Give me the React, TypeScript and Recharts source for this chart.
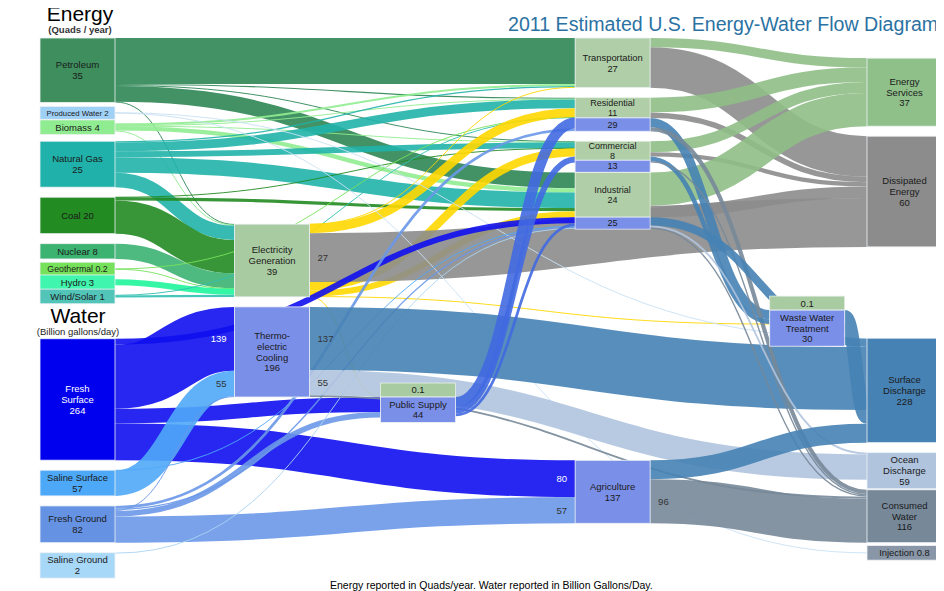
import React from 'react';
import { Sankey } from 'recharts';

// energy in quads / year, water in billion gallons / day
const energySources = ['Petroleum', 'Biomass', 'Natural Gas', 'Coal', 'Nuclear', 'Geothermal', 'Hydro', 'Wind/Solar'];
const energySourceTotals = [35, 4, 25, 20, 8, 0.2, 3, 1];

const waterSources = ['Fresh Surface', 'Saline Surface', 'Fresh Ground', 'Saline Ground'];
const waterSourceTotals = [264, 57, 82, 2];
const producedWater = 2;

const conversions = ['Electricity Generation', 'Thermoelectric Cooling', 'Public Supply', 'Waste Water Treatment'];
const conversionEnergy = [39, 0, 0.1, 0.1];
const conversionWater = [0, 196, 44, 30];

const endUses = ['Transportation', 'Residential', 'Commercial', 'Industrial', 'Agriculture'];
const endUseEnergy = [27, 11, 8, 24, 0];
const endUseWater = [0, 29, 13, 25, 137];

const sinks = ['Energy Services', 'Dissipated Energy', 'Surface Discharge', 'Ocean Discharge', 'Consumed Water', 'Injection'];
const sinkTotals = [37, 60, 228, 59, 116, 0.8];

// [from, to, quads]
const energyFlows: [string, string, number][] = [
  ['Petroleum', 'Transportation', 25],
  ['Petroleum', 'Industrial', 8.5],
  ['Petroleum', 'Residential', 0.6],
  ['Petroleum', 'Commercial', 0.5],
  ['Petroleum', 'Electricity Generation', 0.4],
  ['Biomass', 'Transportation', 1.1],
  ['Biomass', 'Residential', 0.4],
  ['Biomass', 'Commercial', 0.1],
  ['Biomass', 'Industrial', 2.3],
  ['Biomass', 'Electricity Generation', 0.4],
  ['Natural Gas', 'Transportation', 0.7],
  ['Natural Gas', 'Residential', 4.8],
  ['Natural Gas', 'Commercial', 3.2],
  ['Natural Gas', 'Industrial', 8.5],
  ['Natural Gas', 'Electricity Generation', 7.8],
  ['Coal', 'Commercial', 0.05],
  ['Coal', 'Industrial', 1.7],
  ['Coal', 'Electricity Generation', 18.1],
  ['Nuclear', 'Electricity Generation', 8.3],
  ['Geothermal', 'Residential', 0.04],
  ['Geothermal', 'Electricity Generation', 0.16],
  ['Hydro', 'Electricity Generation', 3.2],
  ['Wind/Solar', 'Residential', 0.1],
  ['Wind/Solar', 'Electricity Generation', 1.2],
  ['Electricity Generation', 'Transportation', 0.03],
  ['Electricity Generation', 'Residential', 4.9],
  ['Electricity Generation', 'Commercial', 4.5],
  ['Electricity Generation', 'Industrial', 3.3],
  ['Electricity Generation', 'Public Supply', 0.1],
  ['Electricity Generation', 'Waste Water Treatment', 0.1],
  ['Electricity Generation', 'Dissipated Energy', 26.6],
  ['Transportation', 'Energy Services', 5],
  ['Transportation', 'Dissipated Energy', 22],
  ['Residential', 'Energy Services', 8],
  ['Residential', 'Dissipated Energy', 3],
  ['Commercial', 'Energy Services', 6],
  ['Commercial', 'Dissipated Energy', 2.3],
  ['Industrial', 'Energy Services', 18],
  ['Industrial', 'Dissipated Energy', 6.3],
];

// [from, to, billion gallons / day]
const waterFlows: [string, string, number][] = [
  ['Produced Water', 'Surface Discharge', 1.2],
  ['Produced Water', 'Injection', 0.8],
  ['Fresh Surface', 'Thermoelectric Cooling', 139],
  ['Fresh Surface', 'Public Supply', 32],
  ['Fresh Surface', 'Industrial', 13],
  ['Fresh Surface', 'Agriculture', 80],
  ['Saline Surface', 'Thermoelectric Cooling', 55],
  ['Saline Surface', 'Industrial', 1],
  ['Fresh Ground', 'Thermoelectric Cooling', 2],
  ['Fresh Ground', 'Public Supply', 12],
  ['Fresh Ground', 'Residential', 6],
  ['Fresh Ground', 'Industrial', 3],
  ['Fresh Ground', 'Agriculture', 57],
  ['Saline Ground', 'Industrial', 2],
  ['Thermoelectric Cooling', 'Surface Discharge', 137],
  ['Thermoelectric Cooling', 'Ocean Discharge', 55],
  ['Thermoelectric Cooling', 'Consumed Water', 4],
  ['Public Supply', 'Residential', 23],
  ['Public Supply', 'Commercial', 13],
  ['Public Supply', 'Industrial', 6],
  ['Residential', 'Waste Water Treatment', 20],
  ['Residential', 'Consumed Water', 9],
  ['Commercial', 'Waste Water Treatment', 10],
  ['Commercial', 'Consumed Water', 3],
  ['Industrial', 'Surface Discharge', 18],
  ['Industrial', 'Ocean Discharge', 4],
  ['Industrial', 'Consumed Water', 3],
  ['Agriculture', 'Surface Discharge', 41],
  ['Agriculture', 'Consumed Water', 96],
  ['Waste Water Treatment', 'Surface Discharge', 30],
];

// ribbons whose value is printed, at their start or end
const flowLabels: [string, string, 'start' | 'end'][] = [
  ['Fresh Surface', 'Thermoelectric Cooling', 'end'],
  ['Saline Surface', 'Thermoelectric Cooling', 'end'],
  ['Thermoelectric Cooling', 'Surface Discharge', 'start'],
  ['Thermoelectric Cooling', 'Ocean Discharge', 'start'],
  ['Electricity Generation', 'Dissipated Energy', 'start'],
  ['Fresh Surface', 'Agriculture', 'end'],
  ['Fresh Ground', 'Agriculture', 'end'],
  ['Agriculture', 'Consumed Water', 'start'],
];

// ---- layout helpers ----
// one quad is drawn about as wide as 4 billion gallons/day
const ENERGY_WEIGHT = 4;
const GHOST = 0.001;
const LAST_COLUMN = 17;
// invisible chain ghost0..ghost17 puts each node in its column; the weight of ghostN -> ghostN+1
// is the empty room above / between boxes in column N+1 (column 2 only sets the overall scale)
const chainRoom: Record<number, number> = { 0: 46, 1: 1183, 3: 383, 6: 759, 10: 460, 14: 570 };
const sinkRoom: Record<string, number> = { gapTop: 22, gapMid: 155 };
const columnOf: Record<string, number> = {
  'Electricity Generation': 4,
  'Thermoelectric Cooling': 4,
  'Public Supply': 7,
  Transportation: 11,
  Residential: 11,
  Commercial: 11,
  Industrial: 11,
  Agriculture: 11,
  'Waste Water Treatment': 15,
};

const nodeNames = [
  energySources[0], 'Produced Water', ...energySources.slice(1), 'ghost0', ...waterSources,
  'ghost1', 'ghost2', 'ghost3', 'ghost4', conversions[0], conversions[1],
  'ghost5', 'ghost6', 'ghost7', conversions[2],
  'ghost8', 'ghost9', 'ghost10', ...endUses.slice(0, 4), 'ghost11', endUses[4],
  'ghost12', 'ghost13', 'ghost14', 'ghost15', conversions[3],
  'ghost16', 'gapTop', sinks[0], sinks[1], 'gapMid', ...sinks.slice(2), 'ghost17',
];
const idx: Record<string, number> = {};
nodeNames.forEach((n, i) => (idx[n] = i));
const isGhost = (n: string) => n.startsWith('ghost') || n.startsWith('gap');

const totals: Record<string, { e: number; w: number }> = {};
energySources.forEach((n, i) => (totals[n] = { e: energySourceTotals[i], w: 0 }));
waterSources.forEach((n, i) => (totals[n] = { e: 0, w: waterSourceTotals[i] }));
totals['Produced Water'] = { e: 0, w: producedWater };
conversions.forEach((n, i) => (totals[n] = { e: conversionEnergy[i], w: conversionWater[i] }));
endUses.forEach((n, i) => (totals[n] = { e: endUseEnergy[i], w: endUseWater[i] }));
sinks.forEach((n, i) => (totals[n] = { e: i < 2 ? sinkTotals[i] : 0, w: i < 2 ? 0 : sinkTotals[i] }));

const links = [
  ...energyFlows.map(([s, t, v]) => ({ source: idx[s], target: idx[t], value: v * ENERGY_WEIGHT, amount: v })),
  ...waterFlows.map(([s, t, v]) => ({ source: idx[s], target: idx[t], value: v, amount: v })),
  ...Array.from({ length: LAST_COLUMN }, (_, c) => ({
    source: idx[`ghost${c}`],
    target: idx[`ghost${c + 1}`],
    value: chainRoom[c] ?? GHOST,
    ghost: true,
  })),
  ...Object.entries(columnOf).map(([n, c]) => ({ source: idx[`ghost${c - 1}`], target: idx[n], value: GHOST, ghost: true })),
  ...Object.entries(sinkRoom).map(([n, v]) => ({ source: idx[`ghost${LAST_COLUMN - 1}`], target: idx[n], value: v, ghost: true })),
];

const data = { nodes: nodeNames.map((name) => ({ name })), links };

// ---- styles ----
const FONT = '"Liberation Sans", Arial, sans-serif';
const ENERGY_BOX = '#b0cfa8';
const WATER_BOX = '#7a8fe8';
const nodeColors: Record<string, string> = {
  Petroleum: '#3e8e5e',
  'Produced Water': '#9fd0f5',
  Biomass: '#90ec90',
  'Natural Gas': '#20b2aa',
  Coal: '#228b22',
  Nuclear: '#3cb371',
  Geothermal: '#76e25c',
  Hydro: '#40f5ad',
  'Wind/Solar': '#52c4b8',
  'Fresh Surface': '#0000ee',
  'Saline Surface': '#4ea8f8',
  'Fresh Ground': '#6592e2',
  'Saline Ground': '#a8d8f8',
  'Electricity Generation': '#a9cba1',
  'Thermoelectric Cooling': WATER_BOX,
  'Public Supply': WATER_BOX,
  'Waste Water Treatment': WATER_BOX,
  Agriculture: WATER_BOX,
  'Energy Services': '#8fc08a',
  'Dissipated Energy': '#8c8c8c',
  'Surface Discharge': '#4682b4',
  'Ocean Discharge': '#b0c4de',
  'Consumed Water': '#778899',
  Injection: '#8896a8',
};
const flowColors: Record<string, string> = {
  Petroleum: '#2e8655',
  Hydro: '#1ff59a',
  'Wind/Solar': '#30c0b0',
  'Fresh Surface': '#1010f0',
  'Saline Surface': '#50a8f8',
  'Fresh Ground': '#6a98e8',
  'Saline Ground': '#aad4f4',
};
const nodeLines: Record<string, string[]> = {
  'Electricity Generation': ['Electricity', 'Generation'],
  'Thermoelectric Cooling': ['Thermo-', 'electric', 'Cooling'],
  'Fresh Surface': ['Fresh', 'Surface'],
  'Energy Services': ['Energy', 'Services'],
  'Dissipated Energy': ['Dissipated', 'Energy'],
  'Surface Discharge': ['Surface', 'Discharge'],
  'Ocean Discharge': ['Ocean', 'Discharge'],
  'Consumed Water': ['Consumed', 'Water'],
  'Waste Water Treatment': ['Waste Water', 'Treatment'],
};
const oneLine = ['Produced Water', 'Biomass', 'Coal', 'Nuclear', 'Geothermal', 'Hydro', 'Wind/Solar', 'Injection'];

const linkColor = (s: string, t: string) => {
  if (s === 'Produced Water' || t === 'Injection') return '#c9e1f4';
  if (s === 'Electricity Generation' && t !== 'Dissipated Energy') return '#ffd700';
  if (t === 'Surface Discharge' || t === 'Waste Water Treatment') return '#4682b4';
  if (t === 'Ocean Discharge') return '#b0c4de';
  if (t === 'Consumed Water') return '#778899';
  if (t === 'Energy Services') return '#8fbf87';
  if (t === 'Dissipated Energy') return '#8c8c8c';
  if (s === 'Public Supply') return '#4169e1';
  return flowColors[s] ?? nodeColors[s];
};

const fitSize = (lines: string[], width: number, max = 9.5) =>
  Math.min(max, (width - 4) / (Math.max(...lines.map((l) => l.length)) * 0.54));

const Lines = ({ cx, cy, lines, color = '#1a1a1a', size = 9.5 }: any) => {
  const lh = size + 1.2;
  const top = cy - ((lines.length - 1) * lh) / 2 + size * 0.36;
  return (
    <text textAnchor="middle" fontSize={size} fill={color} fontFamily={FONT}>
      {lines.map((l: string, i: number) => (
        <tspan key={i} x={cx} y={top + i * lh}>
          {l}
        </tspan>
      ))}
    </text>
  );
};

const renderNode = (props: any) => {
  const { x, y, width, height, payload } = props;
  const name: string = payload.name;
  if (isGhost(name)) return <g />;
  const { e, w } = totals[name];
  const cx = x + width / 2;

  // end uses carrying both energy and water: energy box over water box
  if (e >= 1 && w > 0) {
    const ew = e * ENERGY_WEIGHT;
    const eh = Math.max(19, (height * ew) / (ew + w));
    const wh = Math.max(12, height - eh);
    return (
      <g>
        <rect x={x} y={y} width={width} height={eh} fill={ENERGY_BOX} stroke="#e8f0e6" strokeWidth={0.8} />
        <Lines cx={cx} cy={y + eh / 2} lines={[name, String(e)]} size={fitSize([name], width, 9)} />
        <rect x={x} y={y + eh} width={width} height={wh} fill={WATER_BOX} stroke="#e6e9fa" strokeWidth={0.8} />
        <Lines cx={cx} cy={y + eh + wh / 2} lines={[String(w)]} size={9} />
      </g>
    );
  }

  const fill = e >= 1 && endUses.includes(name) ? ENERGY_BOX : nodeColors[name];
  const value = e > 0 && w === 0 ? e : w;
  const base = nodeLines[name] ?? [name];
  const single = oneLine.includes(name);
  const lines = single ? [`${base.join(' ')}  ${value}`] : [...base, String(value)];
  const size = fitSize(lines, width);
  const boxH = Math.max(height, lines.length * (size + 1.2) + 4);
  // thin single-line boxes stay centred on their node, taller labels grow downwards
  const boxY = single ? y + (height - boxH) / 2 : y;
  const textColor = name === 'Fresh Surface' ? '#fff' : '#1a1a1a';

  return (
    <g>
      {e > 0 && e < 1 && w > 0 && (
        <g>
          <rect x={x} y={boxY - 14} width={width} height={14} fill="#a9cba1" stroke="#e8f0e6" strokeWidth={0.8} />
          <Lines cx={cx} cy={boxY - 7} lines={[String(e)]} />
        </g>
      )}
      <rect x={x} y={boxY} width={width} height={boxH} fill={fill} stroke="#eef2f6" strokeWidth={0.8} />
      <Lines cx={cx} cy={boxY + boxH / 2} lines={lines} color={textColor} size={size} />
    </g>
  );
};

const renderLink = (props: any) => {
  const { sourceX, targetX, sourceY, targetY, sourceControlX, targetControlX, linkWidth, payload } = props;
  if (payload.ghost) return <g />;
  const s = payload.source.name;
  const t = payload.target.name;
  const lab = flowLabels.find(([a, b]) => a === s && b === t);
  const atStart = lab && lab[2] === 'start';
  return (
    <g>
      <path
        d={`M${sourceX},${sourceY}C${sourceControlX},${sourceY} ${targetControlX},${targetY} ${targetX},${targetY}`}
        fill="none"
        stroke={linkColor(s, t)}
        strokeWidth={Math.max(linkWidth, 1)}
        strokeOpacity={0.9}
      />
      {lab && (
        <text
          x={atStart ? sourceX + 8 : targetX - 8}
          y={(atStart ? sourceY : targetY) + 3.5}
          textAnchor={atStart ? 'start' : 'end'}
          fontSize={9.5}
          fontFamily={FONT}
          fill={s === 'Fresh Surface' ? '#fff' : '#333'}
        >
          {Math.round(payload.amount)}
        </text>
      )}
    </g>
  );
};

export default function App() {
  return (
    <div style={{ position: 'relative', width: 936, height: 583, background: '#fff', fontFamily: FONT }}>
      <Sankey
        width={936}
        height={583}
        data={data}
        margin={{ top: 30, right: 2, bottom: 9, left: 32 }}
        nodeWidth={75}
        nodePadding={10}
        iterations={0}
        sort={false}
        node={renderNode}
        link={renderLink}
      />
      <div
        style={{
          position: 'absolute',
          left: 500,
          top: 5,
          width: 436,
          overflow: 'hidden',
          fontSize: 19.6,
          color: '#2b72a3',
          whiteSpace: 'nowrap',
        }}
      >
        2011 Estimated U.S. Energy-Water Flow Diagram
      </div>
      <div style={{ position: 'absolute', left: 30, top: -6, width: 84, textAlign: 'center', lineHeight: 1.1 }}>
        <div style={{ fontSize: 21 }}>Energy</div>
        <div style={{ fontSize: 9.5, fontWeight: 'bold', color: '#333' }}>(Quads / year)</div>
      </div>
      <div style={{ position: 'absolute', left: 10, top: 296, width: 120, textAlign: 'center', lineHeight: 1.1 }}>
        <div style={{ fontSize: 21 }}>Water</div>
        <div style={{ fontSize: 9.5, color: '#222' }}>(Billion gallons/day)</div>
      </div>
      <div style={{ position: 'absolute', left: 322, top: 571, fontSize: 10.5, whiteSpace: 'nowrap' }}>
        Energy reported in Quads/year. Water reported in Billion Gallons/Day.
      </div>
    </div>
  );
}
